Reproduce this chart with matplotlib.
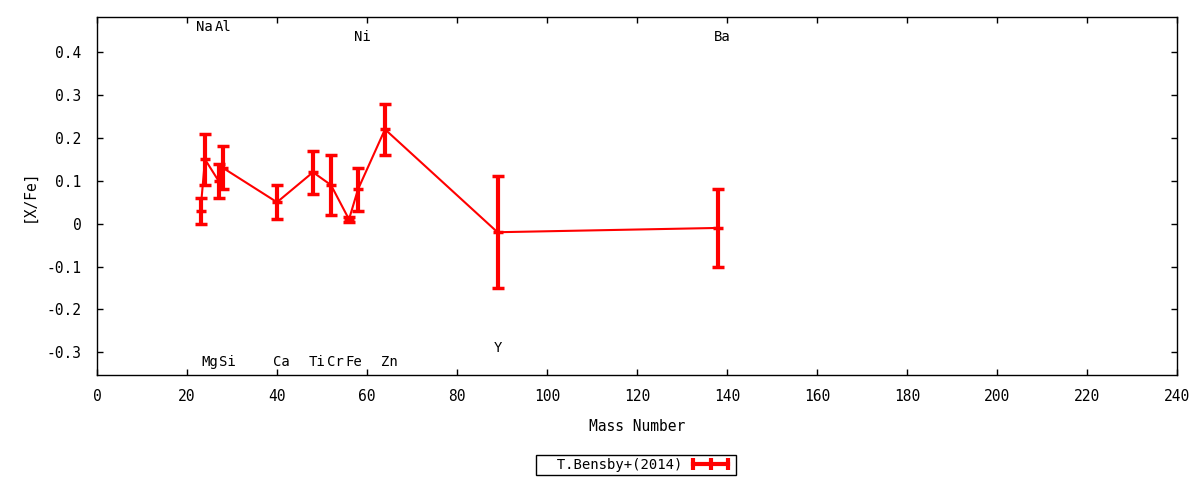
import numpy as np
import matplotlib
matplotlib.use('Agg')
import matplotlib.pyplot as plt
from matplotlib.lines import Line2D

# abundance ratios vs mass number, T.Bensby+(2014)
elements = ['Na', 'Mg', 'Al', 'Si', 'Ca', 'Ti', 'Cr', 'Fe', 'Ni', 'Zn', 'Y', 'Ba']
mass = [23, 24, 27, 28, 40, 48, 52, 56, 58, 64, 89, 138]
xfe = [0.03, 0.15, 0.10, 0.13, 0.05, 0.12, 0.09, 0.01, 0.08, 0.22, -0.02, -0.01]
xfe_err = [0.03, 0.06, 0.04, 0.05, 0.04, 0.05, 0.07, 0.005, 0.05, 0.06, 0.13, 0.09]
# where each element name sits: above, below, or slightly higher below
label_pos = ['top', 'bottom', 'top', 'bottom', 'bottom', 'bottom', 'bottom',
             'bottom', 'upper', 'bottom', 'low', 'upper']

label_y = {'top': 0.458, 'upper': 0.435, 'bottom': -0.323, 'low': -0.291}

plt.rcParams['font.family'] = ['DejaVu Sans Mono']
plt.rcParams['font.size'] = 10

fig = plt.figure(figsize=(12, 4.8), dpi=100)
ax = fig.add_axes([97 / 1200, 1 - 375 / 480, 1080 / 1200, 358 / 480])

ax.plot(mass, xfe, color='red', lw=1.5, zorder=2)
ax.errorbar(mass, xfe, yerr=xfe_err, fmt='none', ecolor='red', elinewidth=3,
            capsize=4, capthick=2.5, zorder=3)
ax.plot(mass, xfe, ls='none', marker='_', ms=7, mew=2.5, color='red', zorder=3)

for el, m, pos in zip(elements, mass, label_pos):
    ax.text(m - 0.9, label_y[pos], el, ha='left', va='center', fontsize=10)

ax.set_xlim(0, 240)
ax.set_ylim(-0.353, 0.482)
ax.set_xticks(np.arange(0, 241, 20))
ax.set_yticks(np.arange(-0.3, 0.41, 0.1))
ax.set_yticklabels(['-0.3', '-0.2', '-0.1', '0', '0.1', '0.2', '0.3', '0.4'])
ax.tick_params(direction='in', length=4, width=1, top=True, right=True,
               labelsize=10.5)
ax.tick_params(axis='y', pad=11)
ax.tick_params(axis='x', pad=10)
for s in ax.spines.values():
    s.set_linewidth(1)

ax.set_xlabel('Mass Number', fontsize=10.5, labelpad=11)
ax.set_ylabel('[X/Fe]', fontsize=10.5, labelpad=7)

handle = Line2D([], [], color='red', lw=3, marker='|', ms=8, mew=3)
leg = fig.legend([handle], ['  T.Bensby+(2014)'], loc='center',
                 bbox_to_anchor=(636 / 1200, 1 - 465 / 480), numpoints=3,
                 markerfirst=False, fancybox=False, framealpha=1,
                 edgecolor='black', handlelength=3.1, borderpad=0.25,
                 handletextpad=0.5, fontsize=10)
leg.get_frame().set_linewidth(1)

fig.savefig('out.png', dpi=100)
